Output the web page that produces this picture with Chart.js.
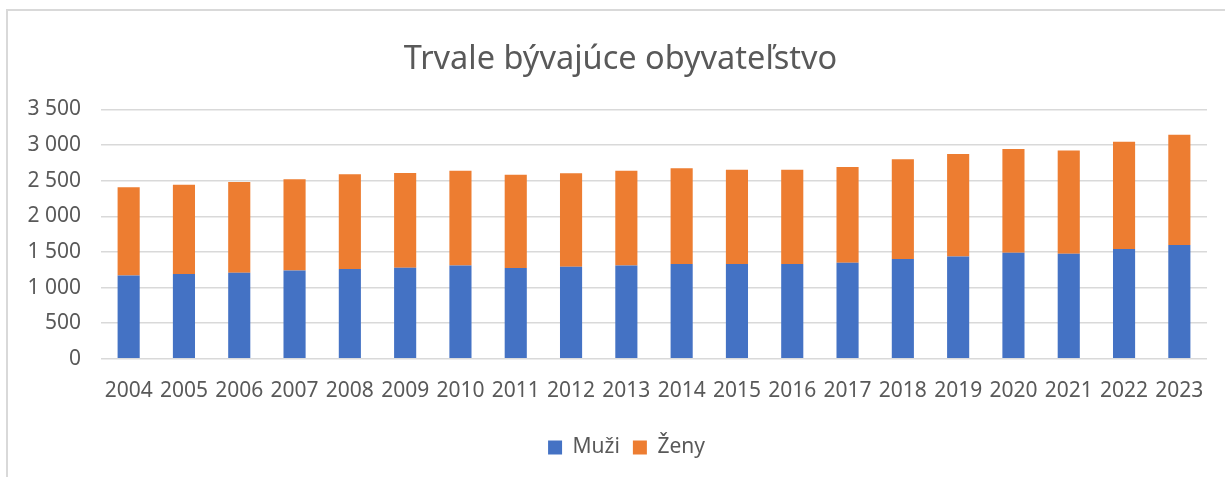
<!DOCTYPE html>
<html>
<head>
<meta charset="utf-8">
<script src="https://cdn.jsdelivr.net/npm/chart.js@4"></script>
<style>
  html, body { margin: 0; padding: 0; background: #fff; }
  #wrap { position: relative; width: 1225px; height: 477px; overflow: hidden; }
  #frame { position: absolute; left: 6px; top: 9px; width: 1240px; height: 490px; border: 2px solid #d9d9d9; box-sizing: border-box; }
  canvas { position: absolute; left: 0; top: 0; }
</style>
</head>
<body>
<div id="wrap">
  <div id="frame"></div>
  <canvas id="popChart" width="1225" height="477"></canvas>
</div>
<script>
    const years = ['2004','2005','2006','2007','2008','2009','2010','2011','2012','2013',
                   '2014','2015','2016','2017','2018','2019','2020','2021','2022','2023'];
    const muzi = [1170, 1190, 1208, 1240, 1260, 1278, 1310, 1274, 1292, 1310,
                  1330, 1330, 1330, 1348, 1400, 1436, 1488, 1474, 1540, 1596];
    const zeny = [1238, 1254, 1274, 1280, 1330, 1330, 1330, 1311, 1312, 1330,
                  1344, 1325, 1325, 1344, 1400, 1438, 1456, 1452, 1506, 1548];
    const yTicks = { min: 0, max: 3500, step: 500 };

    const textColor = '#595959';
    const fontFamily = '"Noto Sans", "Open Sans", sans-serif';

    // the original frame is wider than the window, so title and legend sit a bit right of centre
    const shiftBlocks = {
        id: 'shiftBlocks',
        afterLayout(chart) {
            const moves = [[chart.titleBlock, 17], [chart.legend, 23]];
            moves.forEach(([box, dx]) => {
                if (!box) return;
                box.left += dx;
                box.right += dx;
            });
        }
    };

    const ctx = document.getElementById('popChart').getContext('2d');
    new Chart(ctx, {
        type: 'bar',
        data: {
            labels: years,
            datasets: [
                { label: 'Muži', data: muzi, backgroundColor: '#4472c4' },
                { label: 'Ženy', data: zeny, backgroundColor: '#ed7d31' }
            ]
        },
        plugins: [shiftBlocks],
        options: {
            responsive: false,
            animation: false,
            layout: { padding: { left: 0, right: 18, top: 40, bottom: 9 } },
            datasets: { bar: { categoryPercentage: 1.0, barPercentage: 0.4 } },
            plugins: {
                title: {
                    display: true,
                    text: 'Trvale bývajúce obyvateľstvo',
                    color: textColor,
                    font: { family: fontFamily, size: 32.5, weight: 'normal' },
                    padding: { top: 0, bottom: 30.5 }
                },
                legend: {
                    position: 'bottom',
                    labels: {
                        color: textColor,
                        font: { family: fontFamily, size: 21 },
                        boxWidth: 14,
                        boxHeight: 14,
                        padding: 13
                    }
                },
                tooltip: { enabled: false }
            },
            scales: {
                x: {
                    stacked: true,
                    grid: { display: false, drawTicks: false },
                    border: { display: false },
                    ticks: { color: textColor, font: { family: fontFamily, size: 21 }, padding: 20, maxRotation: 0, autoSkip: false }
                },
                y: {
                    stacked: true,
                    min: yTicks.min,
                    max: yTicks.max,
                    afterFit: (scale) => { scale.width = 101; },
                    grid: { color: '#d9d9d9', lineWidth: 1.5, drawTicks: false },
                    border: { display: false },
                    ticks: {
                        stepSize: yTicks.step,
                        color: textColor,
                        font: { family: fontFamily, size: 21 },
                        padding: 20,
                        callback: (v) => String(v).replace(/\B(?=(\d{3})+(?!\d))/g, ' ')
                    }
                }
            }
        }
    });
</script>
</body>
</html>
